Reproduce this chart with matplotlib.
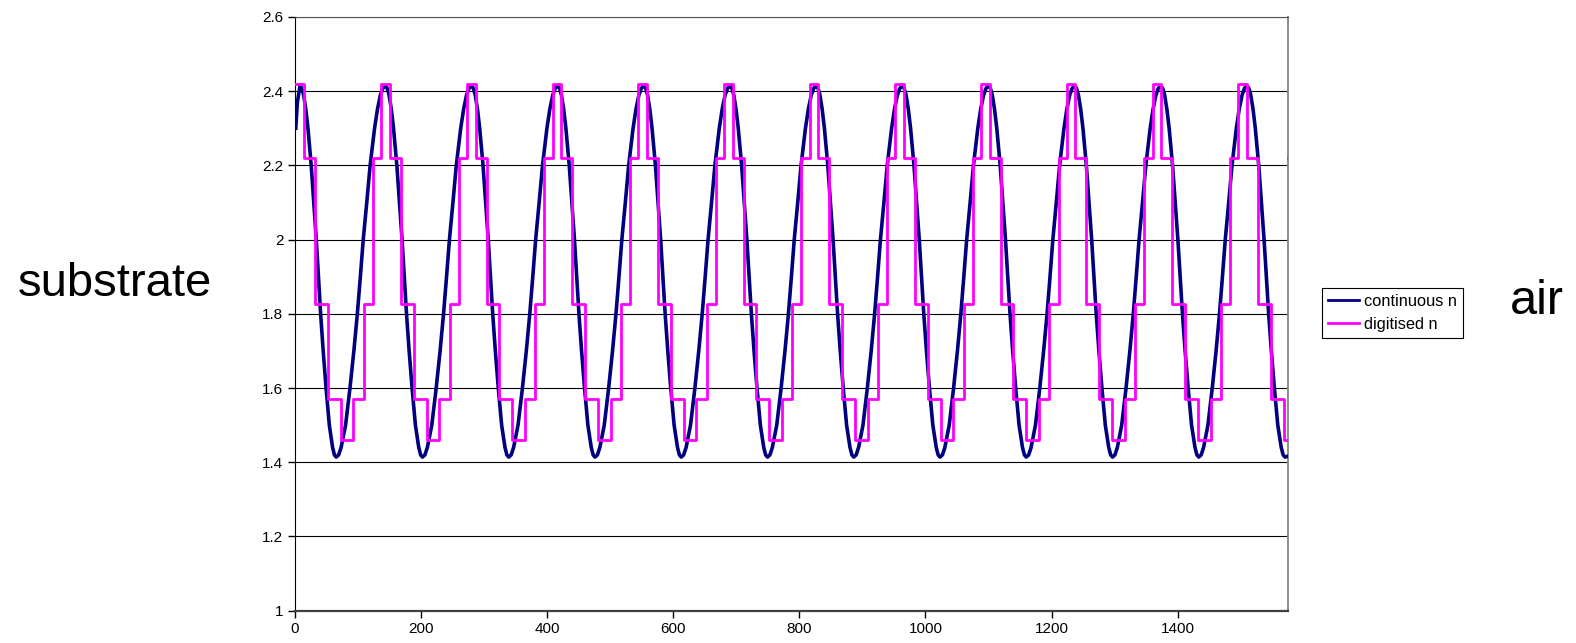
import matplotlib
matplotlib.use("Agg")
import matplotlib.pyplot as plt

plt.rcParams['font.family'] = ['Liberation Sans', 'DejaVu Sans']

# continuous profile: start, peaks and troughs (x units)
HEAD_X = [2.0, 4.5]
HEAD_N = [2.30, 2.37]
PEAKS = [8.7, 144.0, 280.5, 417.1, 553.6, 690.2, 826.7, 963.2, 1099.8, 1236.3, 1372.9, 1509.4]
TROUGHS = [66.1, 202.8, 339.5, 476.2, 612.9, 749.6, 886.3, 1023.0, 1159.7, 1296.4, 1433.1, 1569.8]
TAIL_X = [1573.7]
TAIL_N = [1.416]

# shape of one swing peak -> trough (fraction of the swing, n at that point)
SWING_FRAC = [0.0, 0.05, 0.10, 0.16, 0.22, 0.31, 0.38, 0.45, 0.51, 0.57, 0.64, 0.72, 0.81, 0.90, 0.95, 1.0]
SWING_N = [2.414, 2.408, 2.39, 2.352, 2.30, 2.20, 2.098, 2.00, 1.898, 1.80, 1.701, 1.60, 1.50, 1.44, 1.420, 1.414]

# digitised layers: one period of levels / thicknesses, and where each period starts
STEP_LEVELS = [2.42, 2.22, 1.826, 1.57, 1.46, 1.57, 1.826, 2.22]
STEP_WIDTHS = [13.5, 17.4, 20.3, 20.6, 20.1, 16.4, 14.3, 13.2]
PERIOD_STARTS = [1.6, 137.6, 273.4, 409.2, 545.0, 680.8, 816.6, 952.4, 1088.2, 1224.0, 1359.8, 1495.6]

X_MAX = 1573.7
X_TICKS = [0, 200, 400, 600, 800, 1000, 1200, 1400]
Y_TICKS = [1, 1.2, 1.4, 1.6, 1.8, 2, 2.2, 2.4, 2.6]
Y_TICK_LABELS = ['1', '1.2', '1.4', '1.6', '1.8', '2', '2.2', '2.4', '2.6']


def continuous_curve():
    xs, ns = list(HEAD_X), list(HEAD_N)
    for i, p in enumerate(PEAKS):
        t = TROUGHS[i]
        for f, n in zip(SWING_FRAC, SWING_N):
            xs.append(p + f * (t - p))
            ns.append(n)
        if i + 1 < len(PEAKS):
            nxt = PEAKS[i + 1]
            for f, n in zip(SWING_FRAC[::-1][1:], SWING_N[::-1][1:]):
                xs.append(nxt - f * (nxt - t))
                ns.append(n)
    xs += TAIL_X
    ns += TAIL_N
    return xs, ns


def digitised_steps():
    edges, levels = [], []
    for s in PERIOD_STARTS:
        x = s
        for lev, w in zip(STEP_LEVELS, STEP_WIDTHS):
            edges.append(x)
            levels.append(lev)
            x += w
    edges[0] = 0.0
    edges.append(X_MAX)
    levels.append(levels[-1])
    return edges, levels


W, H = 1576, 643
fig = plt.figure(figsize=(W / 100, H / 100), dpi=100)
left, right, top, bottom = 294.5, 1287.5, 17.0, 610.7
ax = fig.add_axes([left / W, 1 - bottom / H, (right - left) / W, (bottom - top) / H])

cx, cn = continuous_curve()
dx, dn = digitised_steps()
ax.plot(cx, cn, color='#000080', lw=2.6, label='continuous n', zorder=3)
ax.plot(dx, dn, color='#FF00FF', lw=2.0, drawstyle='steps-post', label='digitised n', zorder=4)

ax.set_xlim(0, X_MAX)
ax.set_ylim(1, 2.6)
ax.set_xticks(X_TICKS)
ax.set_yticks(Y_TICKS)
ax.set_yticklabels(Y_TICK_LABELS)
ax.yaxis.grid(True, color='black', lw=0.8)
ax.set_axisbelow(True)
ax.tick_params(axis='both', direction='out', length=5, width=1, labelsize=11, pad=3)

ax.spines['left'].set_color('black')
ax.spines['bottom'].set_color('#404040')
ax.spines['bottom'].set_linewidth(1.6)
ax.spines['right'].set_color('#8c8c8c')
ax.spines['right'].set_linewidth(1.4)
ax.spines['top'].set_color('#555555')

leg = ax.legend(loc='upper left', bbox_to_anchor=(1322 / W, 1 - 288 / H),
                bbox_transform=fig.transFigure, borderaxespad=0, fontsize=11.8,
                fancybox=False, framealpha=1, edgecolor='black',
                handlelength=1.9, handletextpad=0.3, borderpad=0.35, labelspacing=0.5)
leg.get_frame().set_linewidth(0.8)
for line in leg.get_lines():
    line.set_linewidth(2.0)

fig.text(115 / W, 1 - 284 / H, 'substrate', fontsize=34, ha='center', va='center')
fig.text(1537 / W, 1 - 302 / H, 'air', fontsize=35, ha='center', va='center')

fig.savefig('out.png', dpi=100)
